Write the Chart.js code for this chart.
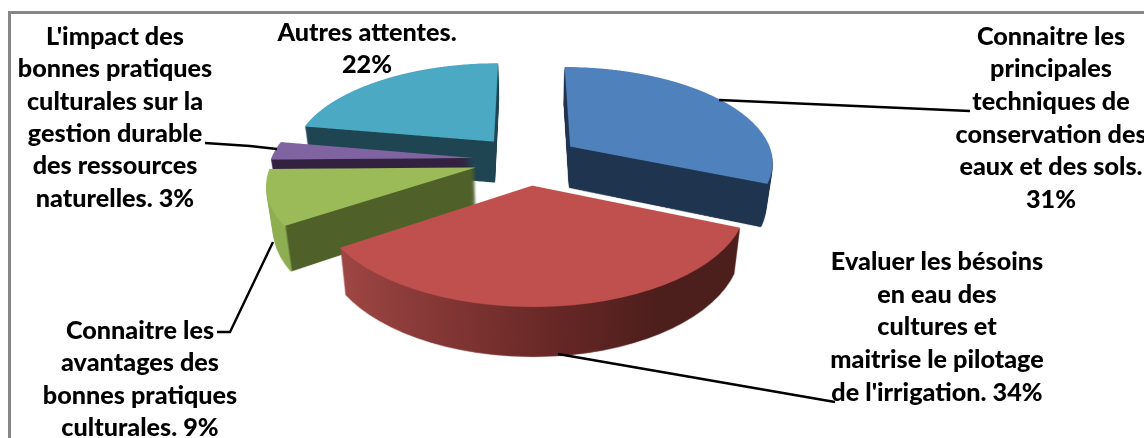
<!DOCTYPE html>
<html><head><meta charset="utf-8">
<script src="https://cdn.jsdelivr.net/npm/chart.js@4"></script>
<style>
html,body{margin:0;padding:0;background:#fff;width:1144px;height:438px;overflow:hidden}
#frame{position:absolute;left:8px;top:11px;width:1136px;height:427px;border-left:3px solid #868686;border-top:3px solid #868686;box-sizing:border-box}
canvas{position:absolute;left:0;top:0}
</style></head><body>
<div id="frame"></div>
<canvas id="c" width="1144" height="438"></canvas>
<script>
const categories = [
  "Connaitre les principales techniques de conservation des eaux et des sols.",
  "Evaluer les bésoins en eau des cultures et maitrise le pilotage de l'irrigation.",
  "Connaitre les avantages des bonnes pratiques culturales.",
  "L'impact des bonnes pratiques culturales sur la gestion durable des ressources naturelles.",
  "Autres attentes."
];
const values = [31, 34, 9, 3, 22];
const topColors = ["#4f81bd", "#c0504d", "#9bbb59", "#8064a2", "#4ba9c4"];
const sideStops = [
  [[-2, "#1f344f"], [2, "#1f344f"]],
  [[-0.8, "#9e4644"], [0.1, "#682826"], [0.55, "#4c1e1c"], [2, "#4c1e1c"]],
  [[-2, "#8fae52"], [-1.08, "#8fae52"], [-1.075, "#4f6029"], [2, "#4f6029"]],
  [[-2, "#33223f"], [2, "#33223f"]],
  [[-2, "#1f4552"], [2, "#1f4552"]]
];
const paintOrder = [4, 3, 2, 0, 1];

const labelLines = [
  {x:1051, y:37, dy:32.6, lines:["Connaitre les","principales","techniques de","conservation des","eaux et des sols.","31%"]},
  {x:937, y:262, dy:32.8, lines:["Evaluer les bésoins","en eau des","cultures et","maitrise le pilotage","de l'irrigation. 34%"]},
  {x:140, y:331, dy:32.4, lines:["Connaitre les","avantages des","bonnes pratiques","culturales. 9%"]},
  {x:115, y:37, dy:32.4, lines:["L'impact des","bonnes pratiques","culturales sur la","gestion durable","des ressources","naturelles. 3%"]},
  {x:367, y:33, dy:32, lines:["Autres attentes.","22%"]}
];
const leaders = [
  [[719,100],[970,111]],
  [[558,354],[835,402]],
  [[273,242],[230,332],[217,332]],
  [[277,149],[250,146],[205,143]]
];

// projection of the pie plane
const view = {cx:527, cy:160, kx:203.6, ky:95, p:0.148, depth:42, sx:0.027, sy:0.054, explode:0.26};
const S = 2, W = 1144, H = 438, R = 150;
const textStretch = 1.05;

function mk(){ const c=document.createElement('canvas'); c.width=W*S; c.height=H*S; return c; }

function warp(src, ax, ay){
  const out = mk(), o = out.getContext('2d');
  o.imageSmoothingEnabled = true; o.imageSmoothingQuality = 'high';
  const Yof = d => d/(view.ky + view.p*d);
  for(let j=0;j<H*S;j++){
    const d0=j/S-view.cy, d1=(j+1)/S-view.cy;
    const Y0=Yof(d0), Y1=Yof(d1), Ym=(Y0+Y1)/2;
    const s0=(ay+R*Y0)*S, s1=(ay+R*Y1)*S;
    if(s0<0||s1>src.height) continue;
    const w=1/(1-view.p*Ym);
    const dx=view.cx-view.kx*w*ax/R, dw=view.kx*w*W/R;
    o.drawImage(src,0,s0,src.width,s1-s0,dx*S,j,dw*S,1);
  }
  return out;
}

const pie3d = {
  id:'pie3d',
  beforeDatasetsDraw(chart){
    const ctx=chart.ctx, arcs=chart.getDatasetMeta(0).data;
    ctx.save();
    ctx.imageSmoothingEnabled=true; ctx.imageSmoothingQuality='high';
    for(const i of paintOrder){
      const arc=arcs[i], base=arc.options;
      const mid=(arc.startAngle+arc.endAngle)/2, E=view.explode*R;
      const render=(fill)=>{
        const c=mk(), g=c.getContext('2d');
        g.setTransform(S,0,0,S,0,0);
        g.translate(Math.cos(mid)*E,Math.sin(mid)*E);
        let f=fill;
        if(Array.isArray(fill)){
          const ox=Math.cos(mid)*E;
          f=g.createLinearGradient(arc.x-2*R-ox,0,arc.x+2*R-ox,0);
          for(const [x,col] of fill) f.addColorStop(Math.min(1,Math.max(0,(x+2)/4)),col);
        }
        arc.options=Object.assign({},base,{backgroundColor:f,borderWidth:0});
        arc.draw(g);
        arc.options=base;
        return warp(c,arc.x,arc.y);
      };
      const side=render(sideStops[i]), top=render(topColors[i]);
      for(let k=view.depth;k>=0;k--){
        const t=k/view.depth, a=1-view.sx*t, e=1+view.sy*t;
        ctx.setTransform(a/S,0,0,e/S,view.cx*(1-a),view.cy*(1-e)+view.depth*t);
        ctx.drawImage(k===0?top:side,0,0);
      }
    }
    ctx.restore();
    return false;
  },
  afterDraw(chart){
    const ctx=chart.ctx;
    ctx.save();
    ctx.strokeStyle='#000'; ctx.lineWidth=2.4; ctx.lineJoin='miter';
    for(const l of leaders){
      ctx.beginPath();
      l.forEach((p,i)=> i?ctx.lineTo(p[0],p[1]):ctx.moveTo(p[0],p[1]));
      ctx.stroke();
    }
    ctx.fillStyle='#000';
    ctx.font='900 24px Lato';
    ctx.textAlign='center'; ctx.textBaseline='middle';
    for(const b of labelLines){
      b.lines.forEach((t,i)=>{
        ctx.save();
        ctx.translate(b.x,b.y+i*b.dy);
        ctx.scale(textStretch,1);
        ctx.fillText(t,0,0);
        ctx.restore();
      });
    }
    ctx.restore();
  }
};

new Chart(document.getElementById('c'),{
  type:'pie',
  data:{labels:categories,datasets:[{data:values,backgroundColor:topColors,borderWidth:0}]},
  options:{
    responsive:false,animation:false,radius:R,rotation:0,
    layout:{padding:0},
    plugins:{legend:{display:false},tooltip:{enabled:false}}
  },
  plugins:[pie3d]
});
</script>
</body></html>
